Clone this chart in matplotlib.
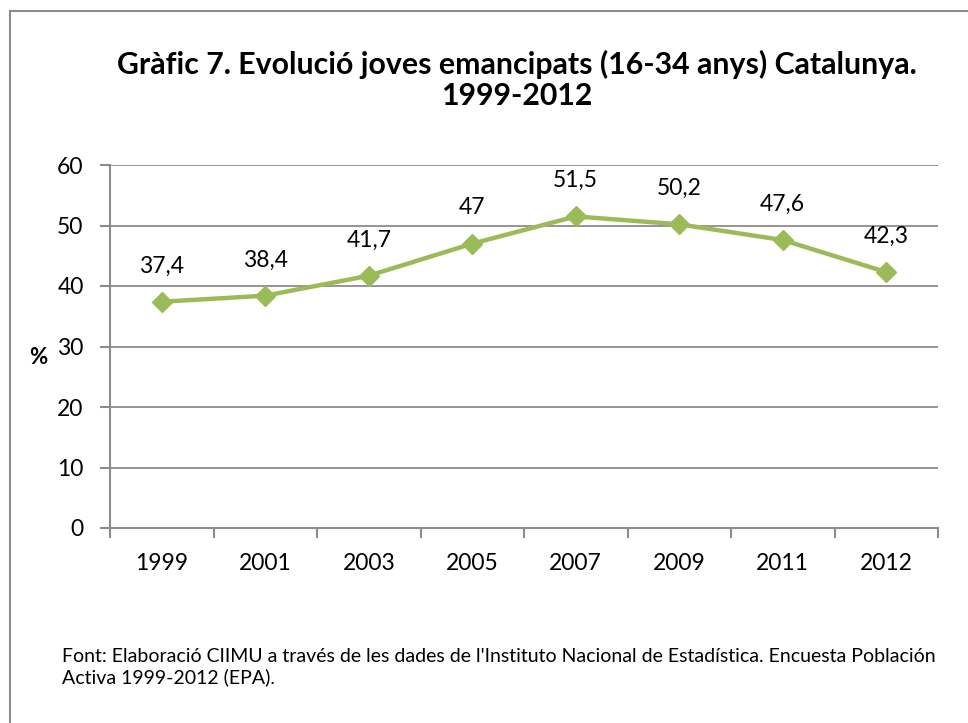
import matplotlib
matplotlib.use('Agg')
import matplotlib.pyplot as plt
from matplotlib.lines import Line2D

years = ['1999', '2001', '2003', '2005', '2007', '2009', '2011', '2012']
values = [37.4, 38.4, 41.7, 47, 51.5, 50.2, 47.6, 42.3]
labels = ['37,4', '38,4', '41,7', '47', '51,5', '50,2', '47,6', '42,3']
yticks = [0, 10, 20, 30, 40, 50, 60]

plt.rcParams['font.family'] = ['Lato', 'DejaVu Sans']

W, H = 968, 723
fig = plt.figure(figsize=(W / 100, H / 100), dpi=100)

# outer frame (only top and left edges visible in the reference)
fig.add_artist(Line2D([10 / W, 10 / W], [0, 1 - 11 / H], transform=fig.transFigure,
                      color='#8c8c8c', lw=1.5))
fig.add_artist(Line2D([10 / W, 1], [1 - 11 / H, 1 - 11 / H], transform=fig.transFigure,
                      color='#8c8c8c', lw=1.5))

left, right, top, bottom = 110, 938, 165, 528
ax = fig.add_axes([left / W, 1 - bottom / H, (right - left) / W, (bottom - top) / H])

x = range(len(years))
ax.plot(x, values, color='#9bbb59', lw=3.2, marker='D', markersize=10,
        markeredgecolor='#9bbb59', zorder=3, clip_on=False)
for xi, v, lab in zip(x, values, labels):
    ax.annotate(lab, (xi, v), xytext=(0, 21), textcoords='offset points',
                ha='center', va='baseline', fontsize=16.5, color='black')

ax.set_xlim(-0.5, len(years) - 0.5)
ax.set_ylim(0, 60)
ax.set_yticks(yticks)
ax.set_yticklabels([str(t) for t in yticks], fontsize=16.5)
ax.set_xticks(list(x))
ax.set_xticklabels(years, fontsize=16.5)
ax.set_xticks([i - 0.5 for i in range(len(years) + 1)], minor=True)
ax.tick_params(axis='x', which='major', length=0, pad=18)
ax.tick_params(axis='x', which='minor', length=7, color='#8c8c8c', width=1.5)
ax.tick_params(axis='y', length=7, color='#8c8c8c', width=1.5, pad=12)
ax.yaxis.grid(True, color='#8c8c8c', lw=1.3)
ax.set_axisbelow(True)
for s in ['top', 'right']:
    ax.spines[s].set_visible(False)
for s in ['left', 'bottom']:
    ax.spines[s].set_color('#8c8c8c')
    ax.spines[s].set_linewidth(1.5)

fig.text(517 / W, 1 - 80 / H, 'Gràfic 7. Evolució joves emancipats (16-34 anys) Catalunya.\n1999-2012',
         ha='center', va='center', fontsize=21.8, fontweight='bold', linespacing=1.12)
fig.text(38 / W, 1 - 358 / H, '%', ha='center', va='center', fontsize=16, fontweight='bold')
fig.text(62 / W, 1 - 667 / H,
         "Font: Elaboració CIIMU a través de les dades de l'Instituto Nacional de Estadística. Encuesta Población\nActiva 1999-2012 (EPA).",
         ha='left', va='center', fontsize=14, linespacing=1.2)

fig.savefig('out.png', dpi=100)
